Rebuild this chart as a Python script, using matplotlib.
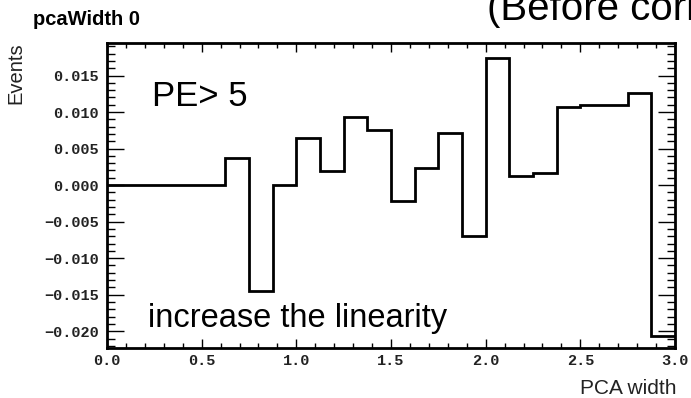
import numpy as np
import matplotlib
matplotlib.use("Agg")
import matplotlib.pyplot as plt
from matplotlib.ticker import MultipleLocator, FuncFormatter

# Histogram of the PCA width difference (24 bins between 0 and 3)
x_min, x_max, n_bins = 0.0, 3.0, 24
bin_values = [
    0.0, 0.0, 0.0, 0.0, 0.0,
    0.0037, -0.0145, 0.0, 0.0064, 0.0019,
    0.0093, 0.0075, -0.0022, 0.0023, 0.0071,
    -0.0070, 0.0174, 0.0012, 0.0016, 0.0107,
    0.0109, 0.0110, 0.0126, -0.0206,
]
y_range = (-0.0223, 0.01945)

title_text = "pcaWidth 0"
x_label = "PCA width"
y_label = "Events"
cut_text = "PE> 5"
note_text = "increase the linearity"
header_text = "(Before correction)"

W, H = 691, 398
fig = plt.figure(figsize=(W / 100, H / 100), dpi=100)
fig.patch.set_facecolor("white")

left, right, top, bottom = 107, 675, 43, 348
ax = fig.add_axes([left / W, 1 - bottom / H, (right - left) / W, (bottom - top) / H])

edges = np.linspace(x_min, x_max, n_bins + 1)
ax.stairs(bin_values, edges, baseline=None, color="black", linewidth=2.0)

ax.set_xlim(x_min, x_max)
ax.set_ylim(*y_range)


def fmt(decimals):
    def _f(v, pos):
        s = f"{v:.{decimals}f}"
        if s.startswith("-"):
            s = "\u2212" + s[1:]
        if s.strip("\u2212") == "0." + "0" * decimals:
            s = "0." + "0" * decimals
        return s
    return FuncFormatter(_f)


# ROOT-like frame and inward ticks on all sides
for sp in ax.spines.values():
    sp.set_linewidth(2.0)
ax.xaxis.set_major_locator(MultipleLocator(0.5))
ax.xaxis.set_minor_locator(MultipleLocator(0.1))
ax.yaxis.set_major_locator(MultipleLocator(0.005))
ax.yaxis.set_minor_locator(MultipleLocator(0.001))
ax.xaxis.set_major_formatter(fmt(1))
ax.yaxis.set_major_formatter(fmt(3))

ax.tick_params(axis="both", which="both", direction="in", top=True, right=True,
               width=1.0, color="black")
ax.tick_params(axis="x", which="major", length=6.5, pad=4)
ax.tick_params(axis="x", which="minor", length=3.6)
ax.tick_params(axis="y", which="major", length=12.5, pad=6)
ax.tick_params(axis="y", which="minor", length=5.5)

for lab in ax.get_xticklabels() + ax.get_yticklabels():
    lab.set_fontfamily(["Liberation Mono", "DejaVu Sans Mono"])
    lab.set_fontweight("bold")
    lab.set_fontsize(11)
    lab.set_color("#222222")

sans = "Liberation Sans"
fig.text(33 / W, 1 - 25 / H, title_text, family=sans, weight="bold", fontsize=14.5,
         ha="left", va="baseline")
fig.text(677 / W, 1 - 394 / H, x_label, family=sans, fontsize=15,
         ha="right", va="baseline", color="#222222")
fig.text(25 / W, 1 - 42 / H, y_label, family=sans, fontsize=14.5, rotation=90,
         ha="right", va="top", color="#222222")
fig.text(152 / W, 1 - 106 / H, cut_text, family=sans, fontsize=25,
         ha="left", va="baseline")
fig.text(148 / W, 1 - 327 / H, note_text, family=sans, fontsize=23.5,
         ha="left", va="baseline")
fig.text(487 / W, 1 - 20 / H, header_text, family=sans, fontsize=29,
         ha="left", va="baseline")

fig.savefig("out.png", dpi=100)
